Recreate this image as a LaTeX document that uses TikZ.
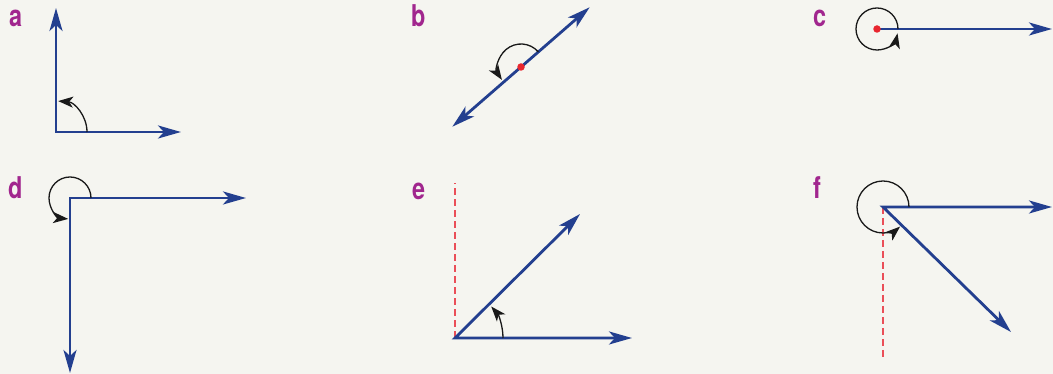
\documentclass[tikz,border=0pt]{standalone}
\usepackage{fontspec}
\newfontfamily\lblfont[FakeStretch=0.78]{TeX Gyre Heros}
\usetikzlibrary{arrows.meta,calc}
\definecolor{vblue}{HTML}{233F8F}
\definecolor{lblpurple}{HTML}{A1268E}
\definecolor{rdot}{HTML}{E8262F}
\definecolor{rdash}{HTML}{EA4F58}
\definecolor{bgcol}{HTML}{F5F5F0}
\tikzset{
  bigtip/.tip={Stealth[length=23pt,width=13pt,inset=6pt]},
  smalltip/.tip={Stealth[length=15pt,width=11pt,inset=4pt]},
  vec/.style={draw=vblue, line width=2.8pt, line join=miter},
  turn/.style={draw=black!90, line width=1.3pt, -smalltip},
  refline/.style={draw=rdash, line width=1.5pt, dash pattern=on 7pt off 4pt},
  reddot/.style={circle, fill=rdot, inner sep=0pt, minimum size=7.5pt},
  lbl/.style={anchor=base west, inner sep=0pt, text=lblpurple, font=\lblfont\bfseries\fontsize{30}{30}\selectfont},
}
\begin{document}
\begin{tikzpicture}[x=1pt,y=1pt]
\fill[bgcol] (0,0) rectangle (1053,374);
\useasboundingbox (0,0) rectangle (1053,374);
% labels
\node[lbl] (la) at (9,347) {a};
\node[lbl] (lb) at (411,347) {b};
\node[lbl] (lc) at (813,347) {c};
\node[lbl] (ld) at (8,175) {d};
\node[lbl] (le) at (412,174) {e};
\node[lbl] (lf) at (813,175) {f};
% a
\coordinate (Oa) at (56,242);
\coordinate (Ua) at (56,366);
\coordinate (Ra) at (181,242);
\draw[vec, bigtip-bigtip] (Ua) -- (Oa) -- (Ra);
\draw[turn] ([xshift=31pt]Oa) arc[start angle=0, end angle=86, radius=31pt];
% b
\coordinate (Ob) at (521,307);
\coordinate (Pb) at ($(Ob)+(41:91)$);
\coordinate (Qb) at ($(Ob)+(221:91)$);
\draw[vec, bigtip-bigtip] (Qb) -- (Pb);
\draw[turn] ($(Ob)+(41:23)$) arc[start angle=41, end angle=214, radius=23pt];
\node[reddot] (db) at (Ob) {};
% c
\coordinate (Oc) at (877,345);
\coordinate (Rc) at (1052,345);
\draw[vec, -bigtip] (Oc) -- (Rc);
\draw[turn] ([xshift=21pt]Oc) arc[start angle=0, end angle=348, radius=21pt];
\node[reddot] (dc) at (Oc) {};
% d
\coordinate (Od) at (70,176);
\coordinate (Rd) at (246,176);
\coordinate (Dd) at (70,1);
\draw[vec, bigtip-bigtip] (Dd) -- (Od) -- (Rd);
\draw[turn] ([xshift=21pt]Od) arc[start angle=0, end angle=265, radius=21pt];
% e
\coordinate (Oe) at (455,36);
\coordinate (Re) at (632,36);
\coordinate (Ae) at (580,160);
\coordinate (Te) at (455,191);
\draw[refline] (Oe) -- (Te);
\draw[vec, bigtip-bigtip] (Ae) -- (Oe) -- (Re);
\draw[turn] ([xshift=48pt]Oe) arc[start angle=0, end angle=41, radius=48pt];
% f
\coordinate (Of) at (883,167);
\coordinate (Rf) at (1052,167);
\coordinate (Af) at (1011,42);
\coordinate (Bf) at (883,14);
\draw[refline] (Of) -- (Bf);
\draw[vec, bigtip-bigtip] (Af) -- (Of) -- (Rf);
\draw[turn] ([xshift=26pt]Of) arc[start angle=0, end angle=311, radius=26pt];
\end{tikzpicture}
\end{document}
